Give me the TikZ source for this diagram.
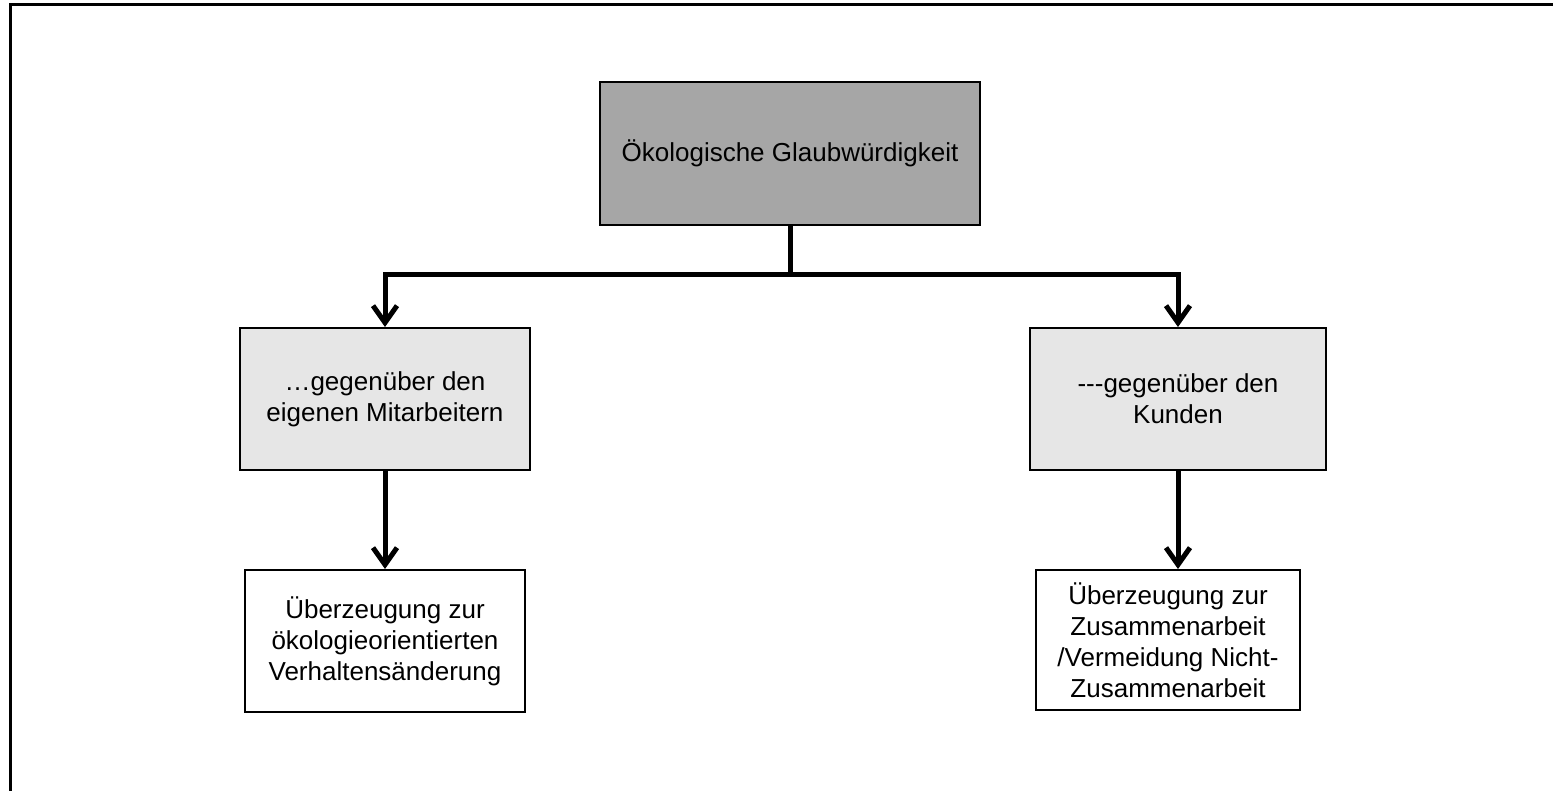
\documentclass[tikz,border=0pt]{standalone}
\usepackage{fontspec}
\setmainfont{Liberation Sans}
\usetikzlibrary{arrows.meta}
\definecolor{darkfill}{HTML}{A6A6A6}
\definecolor{lightfill}{HTML}{E6E6E6}
\begin{document}
\begin{tikzpicture}[x=1pt,y=-1pt,
  box/.style={draw=black, line width=2pt, rectangle, align=center, inner sep=0pt,
    font=\fontsize{26}{31}\selectfont},
  link/.style={line width=5pt, draw=black},
  linkarrow/.style={link, -{Straight Barb[length=17pt,width=24pt,line width=5pt]}},
]
\useasboundingbox (0,0) rectangle (1553,791);
% outer frame (top and left edges)
\draw[line width=3pt] (10,791) -- (10,4.5) -- (1553,4.5);

% boxes
\node[box, fill=darkfill, minimum width=380pt, minimum height=143pt] (top) at (790,153.5)
  {Ökologische Glaubwürdigkeit};
\node[box, fill=lightfill, minimum width=290pt, minimum height=142pt] (midL) at (385,399)
  {…gegenüber den\\eigenen Mitarbeitern};
\node[box, fill=lightfill, minimum width=296pt, minimum height=142pt] (midR) at (1178,399)
  {-{}-{}-gegenüber den\\Kunden};
\node[box, fill=white, minimum width=280pt, minimum height=142pt] (botL) at (385,641)
  {Überzeugung zur\\ökologieorientierten\\Verhaltensänderung};
\node[box, fill=white, minimum width=264pt, minimum height=140pt] (botR) at (1168,640)
  {Überzeugung zur\\Zusammenarbeit\\/Vermeidung Nicht-\\Zusammenarbeit};

% connectors
\coordinate (split) at (790,275);
\draw[link] (top.south) -- (split);
\draw[linkarrow] (split) -| (midL.north);
\draw[linkarrow] (split) -| (midR.north);
\draw[linkarrow] (midL.south) -- (botL.north);
\draw[linkarrow] (midR.south) -- (midR.south |- botR.north);
\end{tikzpicture}
\end{document}
